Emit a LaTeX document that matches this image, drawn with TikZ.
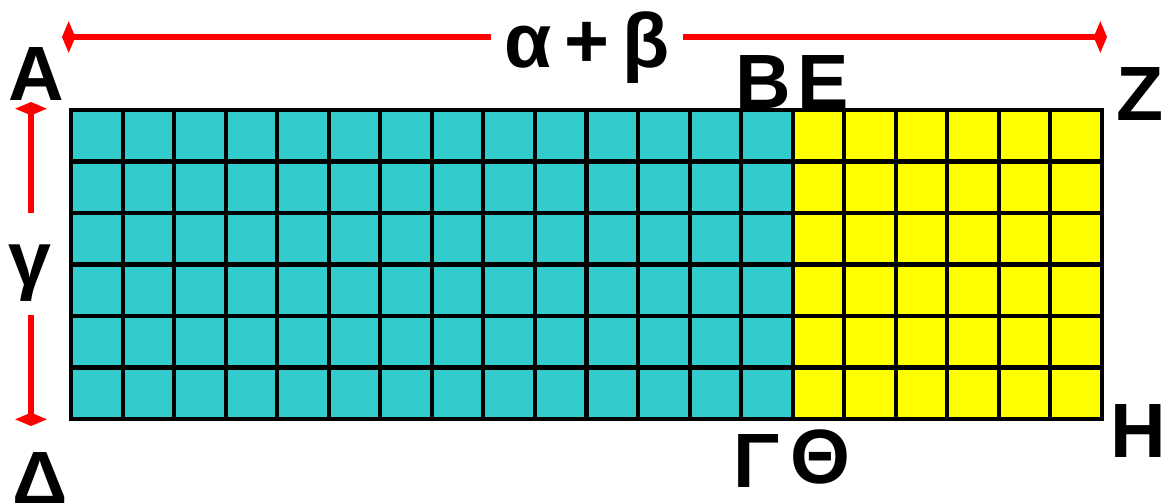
\documentclass[tikz,border=0pt]{standalone}
\usepackage{fontspec}
\setmainfont{Liberation Sans}
\usetikzlibrary{arrows.meta}
\definecolor{tealc}{HTML}{33CCCC}
\definecolor{yellowc}{HTML}{FFFF00}
\definecolor{redc}{HTML}{FF0000}
\tikzset{
  lbl/.style={anchor=base, inner sep=0pt, font=\fontsize{21.9}{24}\selectfont\bfseries},
  dimline/.style={draw=redc, line width=1.7pt, -{Kite[length=3.8pt,width=9pt,inset=1.9pt]}},
  gridline/.style={draw=black, line width=1.15pt},
}
\begin{document}
\begin{tikzpicture}[x=0.01cm,y=-0.01cm]
\useasboundingbox (0,0) rectangle (1161,502);
% fills
\fill[tealc] (71,110) rectangle (793,419);
\fill[yellowc] (793,110) rectangle (1102,419);
% grid
\foreach \i in {0,...,20} {
  \draw[gridline] ({71+\i*51.55},110) -- ({71+\i*51.55},419);
}
\foreach \j in {0,...,6} {
  \draw[gridline, line cap=rect] (71,{110+\j*51.5}) -- (1102,{110+\j*51.5});
}
% labels
\node[lbl] (A) at (36,100) {A};
\node[lbl] (B) at (763,108) {B};
\node[lbl] (E) at (823,108) {E};
\node[lbl] (Z) at (1140,120) {Z};
\node[lbl] (G) at (757,487) {Γ};
\node[lbl] (T) at (820,483) {Θ};
\node[lbl] (H) at (1138,457) {H};
\node[lbl] (D) at (40,505) {Δ};
\node[lbl] (g) at (30,285) {γ};
\node[lbl] (ab) at (587,67) {α\hspace{0.17em}+\hspace{0.17em}β};
% dimension ends
\coordinate (tl) at (62,37);
\coordinate (tr) at (1107,37);
\coordinate (tlg) at (491,37);
\coordinate (trg) at (683,37);
\coordinate (vt) at (31,102);
\coordinate (vb) at (31,426);
\coordinate (vtg) at (31,213);
\coordinate (vbg) at (31,315);
\draw[dimline] (tlg) -- (tl);
\draw[dimline] (trg) -- (tr);
\draw[dimline] (vtg) -- (vt);
\draw[dimline] (vbg) -- (vb);
\end{tikzpicture}
\end{document}
